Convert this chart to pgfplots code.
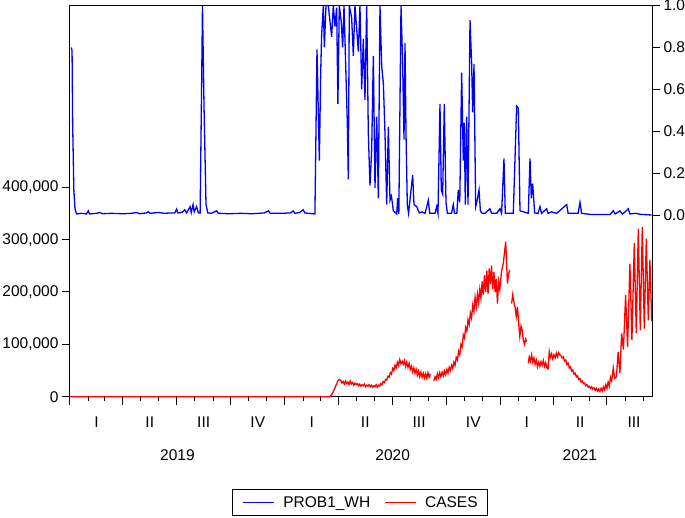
\documentclass[border=0pt]{standalone}
\usepackage{fontspec}
\setmainfont{Liberation Sans}
\usepackage{pgfplots}
\pgfplotsset{compat=1.18}
\begin{document}
\begin{tikzpicture}[font=\fontsize{15.5bp}{18bp}\selectfont]
\path[use as bounding box] (-70bp,-121.3bp) rectangle (615bp,396.7bp);
\begin{axis}[
  at={(0,0)}, anchor=south west,
  scale only axis, width=582bp, height=391.2bp,
  xmin=0, xmax=988.5, ymin=0, ymax=747000,
  clip=false,
  axis line style={line width=1bp, black},
  tick align=outside, xtick pos=bottom, ytick pos=left,
  major tick length=8bp, minor tick length=4.5bp,
  tick style={black, line width=1bp},
  xtick={0,90,181,273,365,456,547,639,731,821,912},
  xticklabels={},
  minor xtick={31,59,120,151,212,243,304,334,396,425,486,517,578,609,670,700,762,790,851,882,943,974},
  extra x ticks={45,135.5,227,319,410.5,501.5,593,685,776,866.5,958},
  extra x tick labels={I,II,III,IV,I,II,III,IV,I,II,III},
  extra x tick style={tick style={draw=none}, xticklabel style={yshift=-9bp}},
  ytick={0,100000,200000,300000,400000},
  scaled y ticks=false,
  yticklabel style={/pgf/number format/.cd, fixed, 1000 sep={,}, assume math mode=true},
  unbounded coords=jump,
]
\addplot[draw=red, line width=1.3bp] table {
x y
0 0
441 0
444 3000
447 9000
450 17000
453 25000
456 32000
458 33000
460 31000
462 26000
464 29000
466 24000
468 30000
470 25000
472 28000
474 23000
476 30000
478 24000
480 27000
482 22000
484 26000
486 23000
488 25000
490 21000
492 24000
494 20000
496 23000
498 21000
500 24000
502 19000
504 22000
506 20000
508 23000
510 19000
512 22000
514 18000
516 21000
518 19000
520 23000
522 18000
524 22000
526 20000
528 25000
530 23000
532 29000
534 27000
536 33000
538 32000
540 39000
542 37000
544 46000
546 43000
548 54000
550 50000
552 60000
554 55000
556 66000
558 60000
560 71000
562 63000
564 68000
566 62000
568 69000
570 58000
572 66000
574 56000
576 64000
578 52000
580 58000
582 47000
584 55000
586 45000
588 52000
590 41000
592 49000
594 38000
596 47000
598 37000
600 45000
602 36000
604 44000
606 35000
608 46000
610 37000
612 44000
614 nan
618 30000
620 38000
622 33000
624 44000
626 36000
628 46000
630 38000
632 47000
634 40000
636 49000
638 42000
640 52000
642 45000
644 56000
646 50000
648 60000
650 54000
652 66000
654 60000
656 75000
658 70000
660 87000
662 80000
664 100000
666 95000
668 118000
670 112000
672 132000
674 125000
676 147000
678 138000
680 160000
682 150000
684 175000
686 163000
688 190000
690 172000
692 196000
694 180000
696 205000
698 188000
700 220000
702 195000
704 232000
706 200000
708 240000
710 196000
712 245000
714 215000
716 250000
718 205000
720 238000
722 200000
724 225000
726 178000
728 220000
730 205000
733 240000
736 255000
740 296000
743 216000
745 235000
747 242000
748 nan
750 178000
752 195000
754 180000
756 170000
758 153000
760 172000
762 140000
764 115000
766 135000
768 127000
770 108000
772 100000
774 110000
775.5 105000
776 nan
778.4 64000
780 76000
782 68000
784 80000
786 66000
788 74000
790 62000
792 70000
794 57000
796 66000
798 58000
800 67000
802 60000
804 69000
806 58000
808 65000
810 55000
812 53000
814 86000
816 75000
818 82000
820 72000
822 80000
824 74000
826 83000
828 76000
830 84000
832 80000
834 78000
836 74000
838 76000
840 68000
842 70000
844 61000
846 64000
848 55000
850 57000
852 49000
854 51000
856 43000
858 45000
860 38000
862 40000
864 33000
866 35000
868 28000
870 30000
872 25000
874 26000
876 21000
878 23000
880 18000
882 20000
884 16000
886 19000
888 14000
890 17000
892 12000
894 16000
896 11000
898 15000
900 10000
902 16000
904 11000
906 19000
908 13000
910 23000
912 16000
914 28000
916 20000
918 37000
920 30000
922.7 55000
925 35000
928 38000
931 85000
934 45000
937 121000
940 90000
943.7 194000
947 95000
951 254000
954.4 108000
958.4 293000
961.8 121000
965.2 321000
968.6 127000
972 324000
975.4 130000
978.8 302000
982.2 146000
985 261000
988 145000
};
\node at (axis cs:182.5,0) [yshift=-58.3bp] {2019};
\node at (axis cs:548,0) [yshift=-58.3bp] {2020};
\node at (axis cs:866,0) [yshift=-58.3bp] {2021};
\end{axis}
\begin{axis}[
  at={(0,0)}, anchor=south west,
  scale only axis, width=582bp, height=391.2bp,
  xmin=0, xmax=988.5, ymin=-0.8673, ymax=1.0,
  clip=false,
  axis x line=none, axis y line*=right,
  axis line style={line width=1bp, black},
  tick align=outside, ytick pos=right,
  major tick length=8bp,
  tick style={black, line width=1bp},
  ytick={0,0.2,0.4,0.6,0.8,1.0},
  yticklabel style={/pgf/number format/.cd, fixed, fixed zerofill, precision=1, assume math mode=true},
  legend style={at={(0.5,0)}, anchor=north, xshift=-1bp, yshift=-92.3bp, draw=black, line width=0.8bp,
    inner xsep=9.5bp, inner ysep=5bp, legend columns=2,
    nodes={inner xsep=0bp, inner ysep=2bp},
    /tikz/every odd column/.append style={column sep=8.7bp},
    /tikz/every even column/.append style={column sep=14bp}},
  legend image code/.code={\draw[#1] (0bp,0bp) -- (31bp,0bp);},
]
\addplot[draw=blue, line width=1.3bp] table {
x y
2.5 0.80
3.5 0.78
4.5 0.44
6.5 0.12
8.5 0.03
11 0.005
20 0.008
28 0.005
31 0.02
33 0.005
45 0.008
51 0.012
55 0.006
70 0.008
90 0.006
105 0.008
113 0.012
118 0.006
130 0.01
133 0.016
136 0.008
150 0.012
160 0.008
172 0.01
178 0.01
181 0.028
183 0.01
190 0.012
195 0.025
198 0.01
204 0.04
206 0.012
209 0.05
211 0.015
215 0.04
218 0.01
221 0.01
223.6 0.63
225 1.0
227.6 0.52
231 0.05
234 0.01
240 0.008
249 0.02
252 0.008
270 0.006
290 0.008
310 0.006
330 0.01
337 0.02
340 0.008
360 0.008
375 0.01
379 0.02
382 0.008
390 0.012
396 0.025
399 0.01
405 0.008
416 0.005
419.5 0.79
423.5 0.26
425.8 0.68
427.4 0.86
430.3 1.0
432 0.80
434.8 1.0
438.7 1.0
444.4 0.85
447.2 1.0
450 0.90
452.9 0.99
455 0.53
457.4 1.0
460.8 0.92
463.1 0.80
465.4 1.0
471 0.44
472.7 0.17
474.4 1.0
478.4 0.94
481.2 0.76
484 1.0
486.9 0.89
489.7 0.78
492.5 1.0
495.4 0.60
498.2 0.84
501 0.55
503.9 1.0
506.7 0.39
509.5 0.14
512.4 0.31
515.2 0.76
518 0.13
520.9 0.47
523.7 0.08
526.5 1.0
529.4 0.71
532.2 0.63
535 0.39
537.9 0.05
540.7 0.42
543.5 0.07
546 0.09
549.2 0.02
554.9 0.005
556.5 0.08
558.5 0.005
562.2 1.0
565 0.72
567.3 0.36
569 0.82
570.7 0.39
572.9 0.05
575 0.008
582 0.19
584.3 0.05
588.8 0.04
593.3 0.01
598 0.015
603 0.008
608.6 0.07
611 0.008
620 0.008
622.8 0.04
625 0.008
628.4 0.53
630.6 0.12
633 0.10
635.7 0.53
638.6 0.06
641 0.008
648 0.008
651 0.05
653 0.008
657 0.008
659.5 0.12
662 0.06
665.2 0.68
668 0.26
669.7 0.44
671.4 0.05
673.7 0.47
676 0.05
679.4 0.93
682.2 0.72
683.9 0.49
686.2 0.72
689 0.04
691.5 0.07
694.7 0.12
697 0.02
700 0.008
705 0.008
713.3 0.03
716 0.008
725 0.008
730.3 0.03
733 0.008
737.1 0.27
739.3 0.008
752.9 0.008
758.6 0.52
761.4 0.51
764.3 0.02
778.4 0.008
781.3 0.27
783.5 0.08
785.8 0.15
789.2 0.01
795 0.008
798.2 0.04
801 0.008
809.6 0.03
812 0.008
818 0.015
826.6 0.008
843.6 0.05
846 0.008
863 0.008
866.2 0.06
869 0.008
886 0.002
917 0.002
922.7 0.02
926 0.005
934 0.02
938 0.005
943 0.015
948.2 0.03
951 0.005
960 0.008
970 0.003
988 0.0
};
\addlegendentry{PROB1\_WH}
\addlegendimage{draw=red, line width=1.1bp}
\addlegendentry{CASES}
\end{axis}
\end{tikzpicture}
\end{document}
